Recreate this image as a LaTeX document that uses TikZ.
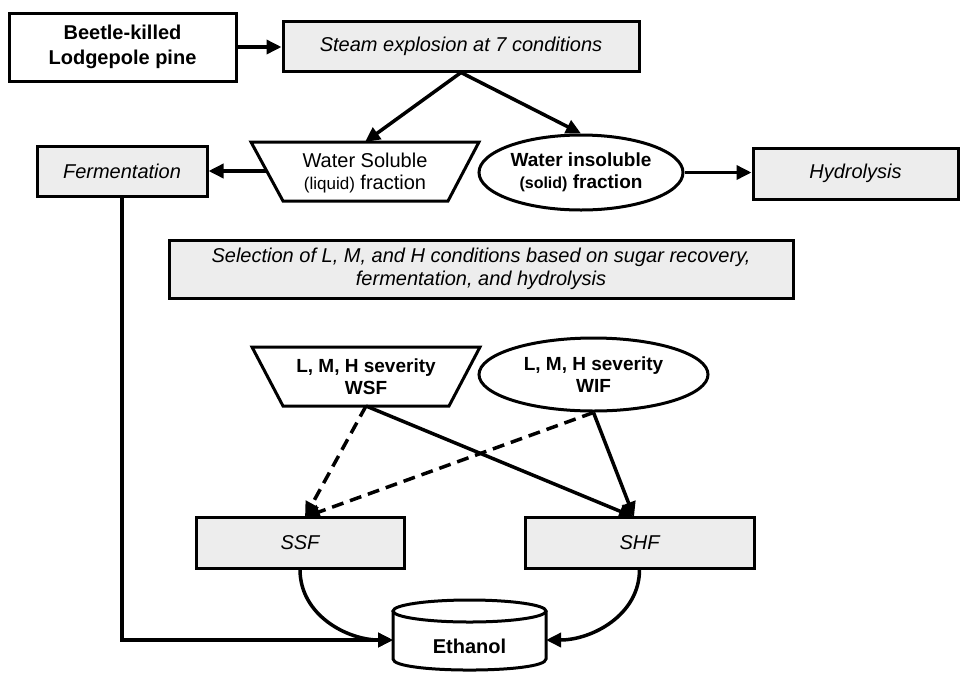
\documentclass[tikz,border=0pt]{standalone}
\usepackage{fontspec}
\setmainfont{Liberation Sans}
\usetikzlibrary{shapes.geometric,arrows.meta}
\definecolor{boxgray}{HTML}{EDEDED}
\begin{document}
\begin{tikzpicture}[x=1pt,y=-1pt,
  box/.style={draw, line width=3pt, inner sep=0pt, align=center},
  graybox/.style={box, fill=boxgray},
  shapeline/.style={draw, line width=3pt, line join=miter},
  conn/.style={line width=3.5pt, -{Triangle[length=15pt,width=14pt]}},
  dconn/.style={conn, dash pattern=on 12pt off 7pt},
  fitb/.style={font=\fontsize{20}{25}\selectfont\bfseries},
  fiti/.style={font=\fontsize{20}{23}\selectfont\itshape},
  fitr/.style={font=\fontsize{20}{22}\selectfont},
  fitbb/.style={font=\fontsize{19}{22}\selectfont\bfseries},
  elbox/.style={ellipse, draw, line width=3pt, inner sep=0pt, align=center}
]
\useasboundingbox (0,0) rectangle (966,673);

% top row
\node[box, fitb, minimum width=227pt, minimum height=68pt] (beetle) at (122.5,47) {Beetle-killed\\Lodgepole pine};
\node[graybox, fiti, minimum width=356pt, minimum height=50pt] (steam) at (461,46) {Steam explosion at 7 conditions};

% second row
\node[graybox, fiti, minimum width=170pt, minimum height=50pt] (ferm) at (122,171) {Fermentation};
\draw[shapeline] (251,142) -- (479,142) -- (448,201) -- (283,201) -- cycle;
\node[fitr, align=center, inner sep=0pt] (ws) at (365,173) {Water Soluble\\{\fontsize{17}{22}\selectfont(liquid)} fraction};
\coordinate (wsN) at (365,142);
\coordinate (wsW) at (266.7,171);
\node[elbox, fitbb, minimum width=204pt, minimum height=75pt] (wis) at (581,172.5) {Water insoluble\\{\fontsize{16}{22}\selectfont\bfseries(solid)} fraction};
\node[graybox, fiti, minimum width=205pt, minimum height=51pt] (hydro) at (855.5,173.5) {Hydrolysis};

% selection
\node[graybox, fiti, minimum width=624pt, minimum height=58pt] (sel) at (481,269) {Selection of L, M, and H conditions based on sugar recovery,\\fermentation, and hydrolysis};

% severity row
\draw[shapeline] (252,347) -- (480,347) -- (449,406) -- (283,406) -- cycle;
\node[fitbb, align=center, inner sep=0pt] (wsf) at (366,377) {L, M, H severity\\WSF};
\coordinate (wsfS) at (366,406);
\node[elbox, fitbb, minimum width=229pt, minimum height=73pt] (wif) at (593.5,374.5) {L, M, H severity\\WIF};

% SSF / SHF
\node[graybox, fiti, minimum width=208pt, minimum height=51pt] (ssf) at (300,542.5) {SSF};
\node[graybox, fiti, minimum width=229pt, minimum height=51pt] (shf) at (639.5,542.5) {SHF};
\coordinate (ssfN) at (305,517);
\coordinate (shfN) at (634,517);

% Ethanol cylinder
\draw[line width=3pt, fill=white] (393,611) -- (393,659) .. controls (393,673.7) and (546,673.7) .. (546,659) -- (546,611);
\draw[line width=3pt] (469.5,611) ellipse [x radius=76.5pt, y radius=11pt];
\node[fitb, inner sep=0pt] (eth) at (469.5,646) {Ethanol};
\coordinate (ethW) at (393,640);
\coordinate (ethE) at (546,640);

% connectors
\draw[conn] (beetle.east) -- (beetle.east -| steam.west);
\draw[conn] (steam.south) -- (wsN);
\draw[conn] (steam.south) -- (wis.north);
\draw[conn] (wsW) -- (wsW -| ferm.east);
\draw[conn] (wis.east) -- (wis.east -| hydro.west);
\draw[conn] (ferm.south) |- (ethW);
\draw[dconn] (wsfS) -- (ssfN);
\draw[dconn] (wif.south) -- (ssfN);
\draw[conn] (wsfS) -- (shfN);
\draw[conn] (wif.south) -- (shfN);
\draw[conn] (ssf.south) to[out=-90,in=180] (ethW);
\draw[conn] (shf.south) to[out=-90,in=0] (ethE);
\end{tikzpicture}
\end{document}
